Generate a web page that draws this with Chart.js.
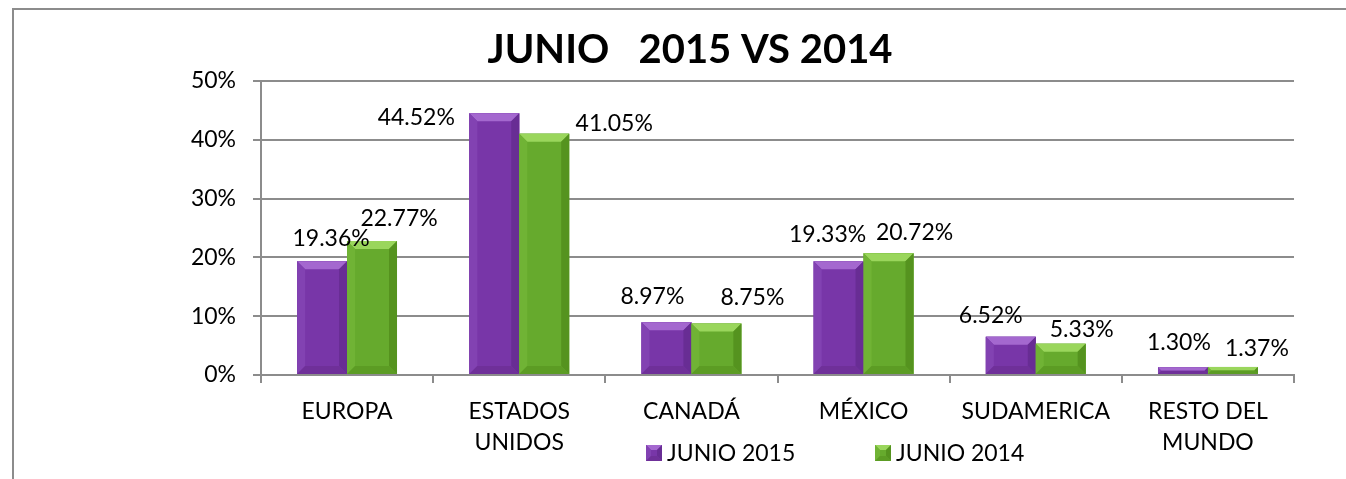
<!DOCTYPE html>
<html>
<head>
<meta charset="utf-8">
<script src="https://cdn.jsdelivr.net/npm/chart.js@4.4.1/dist/chart.umd.min.js"></script>
<style>
  html, body { margin: 0; padding: 0; background: #ffffff; overflow: hidden; }
  #wrap { position: relative; width: 1346px; height: 479px; }
  #frame { position: absolute; left: 12px; top: 8px; width: 2000px; height: 2000px;
           border-left: 2px solid #8c8c8c; border-top: 2px solid #8c8c8c; box-sizing: border-box; }
  canvas { position: absolute; left: 0; top: 0; }
</style>
</head>
<body>
<div id="wrap">
  <div id="frame"></div>
  <canvas id="c" width="1346" height="479"></canvas>
</div>
<script>
// ---- data ----
const categories = [['EUROPA'], ['ESTADOS', 'UNIDOS'], ['CANADÁ'], ['MÉXICO'], ['SUDAMERICA'], ['RESTO DEL', 'MUNDO']];
const seriesNames = ['JUNIO 2015', 'JUNIO 2014'];
const junio2015 = [19.36, 44.52, 8.97, 19.33, 6.52, 1.30];
const junio2014 = [22.77, 41.05, 8.75, 20.72, 5.33, 1.37];
const yMin = 0, yMax = 50, yStep = 10;
const chartTitle = 'JUNIO   2015 VS 2014';

// ---- styling (label placement offsets relative to bar top centre, in px) ----
const labelOffsets = [
  [[9, -23], [-78, 4], [-14, -26], [-11, -27], [-20, -21], [-4, -25]],
  [[27, -23], [70, -10], [36, -26], [26, -21], [21, -14], [24, -18]]
];
const FONT = 'Lato, "Open Sans", "Liberation Sans", sans-serif';
const GRID = '#8c8c8c';
const palette = [
  { face: '#7836a8', light: '#a468cf', side: '#8242b2', dark: '#682d94', bottom: '#6f3099' },
  { face: '#66aa2d', light: '#9ad65c', side: '#70b335', dark: '#55931f', bottom: '#5c9c24' }
];

function bevelRect(ctx, l, t, r, b, col, bev) {
  ctx.save();
  ctx.fillStyle = col.face; ctx.fillRect(l, t, r - l, b - t);
  const k = Math.min(bev, (b - t) / 2, (r - l) / 2);
  const poly = (pts, c) => { ctx.beginPath(); ctx.moveTo(pts[0][0], pts[0][1]); for (let i = 1; i < pts.length; i++) ctx.lineTo(pts[i][0], pts[i][1]); ctx.closePath(); ctx.fillStyle = c; ctx.fill(); };
  poly([[l, t], [r, t], [r - k, t + k], [l + k, t + k]], col.light);
  poly([[l, t], [l + k, t + k], [l + k, b - k], [l, b]], col.side);
  poly([[r, t], [r, b], [r - k, b - k], [r - k, t + k]], col.dark);
  poly([[l, b], [r, b], [r - k, b - k], [l + k, b - k]], col.bottom);
  ctx.restore();
}

const bevelPlugin = {
  id: 'bevel',
  afterDatasetsDraw(chart) {
    const ctx = chart.ctx;
    chart.data.datasets.forEach((ds, di) => {
      const meta = chart.getDatasetMeta(di);
      meta.data.forEach((el) => {
        const p = el.getProps(['x', 'y', 'base', 'width'], true);
        bevelRect(ctx, p.x - p.width / 2, p.y, p.x + p.width / 2, p.base, palette[di], 8);
      });
    });
  }
};

const labelPlugin = {
  id: 'valueLabels',
  afterDatasetsDraw(chart) {
    const ctx = chart.ctx;
    ctx.save();
    ctx.font = '23px ' + FONT;
    ctx.fillStyle = '#000';
    ctx.textAlign = 'center';
    ctx.textBaseline = 'middle';
    chart.data.datasets.forEach((ds, di) => {
      const meta = chart.getDatasetMeta(di);
      meta.data.forEach((el, i) => {
        const p = el.getProps(['x', 'y'], true);
        const off = labelOffsets[di][i];
        ctx.fillText(ds.data[i].toFixed(2) + '%', p.x + off[0], p.y + off[1]);
      });
    });
    ctx.restore();
  }
};

const titleLegendPlugin = {
  id: 'titleLegend',
  afterDraw(chart) {
    const ctx = chart.ctx;
    ctx.save();
    ctx.fillStyle = '#000';
    ctx.font = 'bold 40px ' + FONT;
    ctx.textAlign = 'center';
    ctx.textBaseline = 'middle';
    ctx.fillText(chartTitle, 690, 50);
    // legend
    ctx.font = '23px ' + FONT;
    ctx.textAlign = 'left';
    const starts = [646, 875];
    chart.data.datasets.forEach((ds, di) => {
      const x = starts[di], y = 453;
      bevelRect(ctx, x, y - 8, x + 16, y + 8, palette[di], 5);
      ctx.fillStyle = '#000';
      ctx.fillText(ds.label, x + 21, y + 1);
    });
    ctx.restore();
  }
};

new Chart(document.getElementById('c'), {
  type: 'bar',
  data: {
    labels: categories,
    datasets: [
      { label: seriesNames[0], data: junio2015, backgroundColor: palette[0].face },
      { label: seriesNames[1], data: junio2014, backgroundColor: palette[1].face }
    ]
  },
  options: {
    responsive: false,
    animation: false,
    devicePixelRatio: 1,
    layout: { padding: { top: 81, right: 52, bottom: 0, left: 0 } },
    datasets: { bar: { categoryPercentage: 0.58, barPercentage: 1.0 } },
    plugins: { legend: { display: false }, title: { display: false }, tooltip: { enabled: false } },
    scales: {
      x: {
        afterFit(scale) { scale.height = 104; },
        grid: { display: true, drawOnChartArea: false, drawTicks: true, tickLength: 8, color: GRID, lineWidth: 2, offset: true },
        border: { display: true, color: GRID, width: 2 },
        ticks: { color: '#000', font: { family: FONT, size: 23, lineHeight: 1.35 }, padding: 13, maxRotation: 0, autoSkip: false }
      },
      y: {
        min: yMin, max: yMax,
        afterFit(scale) { scale.width = 261; },
        grid: { display: true, drawOnChartArea: true, drawTicks: true, tickLength: 8, color: GRID, lineWidth: 2 },
        border: { display: true, color: GRID, width: 2 },
        ticks: { stepSize: yStep, color: '#000', font: { family: FONT, size: 23 }, padding: 17, callback: (v) => v + '%' }
      }
    }
  },
  plugins: [bevelPlugin, labelPlugin, titleLegendPlugin]
});
</script>
</body>
</html>
